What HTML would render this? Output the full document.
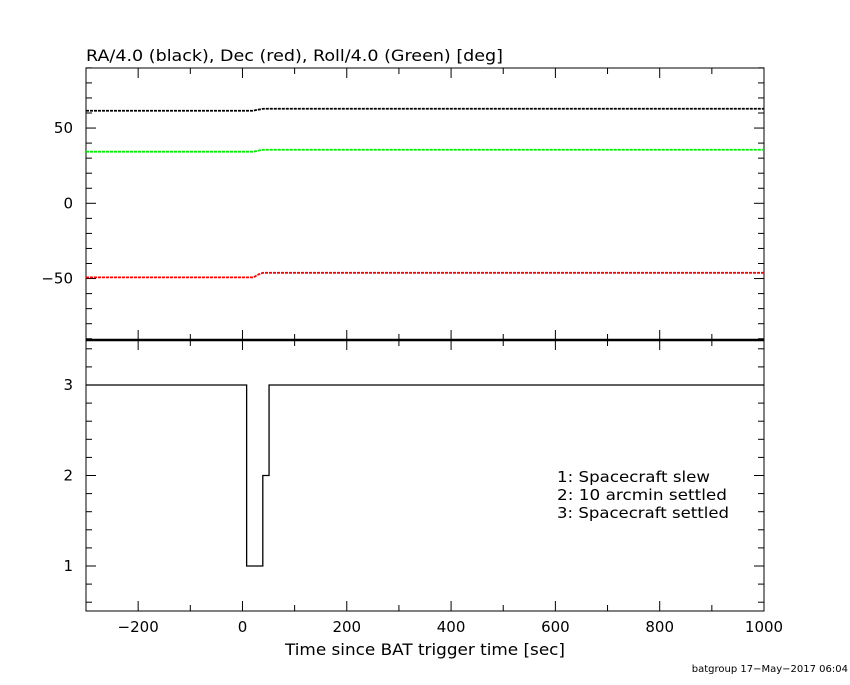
<!DOCTYPE html>
<html><head><meta charset="utf-8"><style>
body{margin:0;background:#fff;}
svg text{font-family:"DejaVu Sans","Liberation Sans",sans-serif;}
</style></head><body>
<svg id="c" width="850" height="680" xmlns="http://www.w3.org/2000/svg">
<rect width="850" height="680" fill="#fff"/>
<g id="g"></g>
</svg>
<script>
const xTicks=[-200,0,200,400,600,800,1000];
const topTicks=[-50,0,50];
const botTicks=[1,2,3];
const raT=[-300,20,30,40,1000];
const raV=[61.5,61.5,62.2,62.8,62.8];
const decT=[-300,20,25,30,35,40,1000];
const decV=[-49.2,-49.2,-48.4,-47.4,-46.6,-46.2,-46.2];
const rollT=[-300,20,30,40,1000];
const rollV=[34.3,34.3,35.0,35.6,35.6];
const stT=[-300,8,39,51,1000];
const stV=[3,1,2,3,3];
const legend=["1: Spacecraft slew","2: 10 arcmin settled","3: Spacecraft settled"];
const legendW=[153,170,172];

const L=86,R=764;
const X=t=>L+(t+300)/1300*(R-L);
const YT=v=>203.3-v*1.505;
const YB=v=>385-(v-3)*90.5;
const g=document.getElementById('g');
const NS='http://www.w3.org/2000/svg';
function el(tag,at,txt){const e=document.createElementNS(NS,tag);for(const k in at)e.setAttribute(k,at[k]);if(txt!==undefined)e.textContent=txt;g.appendChild(e);return e;}
function line(x1,y1,x2,y2,w){return el('line',{x1,y1,x2,y2,stroke:'#000','stroke-width':w||1});}

let f=el('rect',{x:L,y:68,width:R-L,height:272,fill:'none',stroke:'#000','stroke-width':1});


f=el('rect',{x:L,y:340,width:R-L,height:271,fill:'none',stroke:'#000','stroke-width':1});


line(L,340,R,340,2.5);

for(let t=-300;t<=1000;t+=100){const x=X(t);const maj=t%200===0;const h=maj?10:6;
 line(x,611,x,611-h);line(x,340,x,340+h);line(x,68,x,68+h);line(x,340,x,340-h);}
xTicks.forEach(t=>{const e=el('text',{x:X(t),y:632,'font-size':15,'text-anchor':'middle'},t<0?'\u2212'+(-t):String(t));
 
 });
for(let v=-90;v<=90;v+=10){const y=YT(v);const h=v%50===0?10:6;line(L,y,L+h,y);line(R,y,R-h,y);}
topTicks.forEach(v=>{const e=el('text',{x:73,y:YT(v)+5,'font-size':15,'text-anchor':'end'},v<0?'\u2212'+(-v):String(v));
 
 });
for(let v=0.6;v<=3.41;v+=0.2){const y=YB(v);const h=Math.abs(v-Math.round(v))<0.01?10:6;line(L,y,L+h,y);line(R,y,R-h,y);}
botTicks.forEach(v=>{const e=el('text',{x:73,y:YB(v)+5,'font-size':15,'text-anchor':'end'},String(v));
 
 });

function series(T,V,col,name){const p=T.map((t,i)=>X(t)+','+YT(V[i])).join(' ');
 const e=el('polyline',{points:p,fill:'none',stroke:col,'stroke-width':1.8,'stroke-dasharray':'3,1'});
 
 }
series(raT,raV,'#000','ra-line');
series(rollT,rollV,'#00ee00','roll-line');
series(decT,decV,'#ff0000','dec-line');

let sp=[];for(let i=0;i<stT.length-1;i++){sp.push(X(stT[i])+','+YB(stV[i]));sp.push(X(stT[i+1])+','+YB(stV[i]));}
const s=el('polyline',{points:sp.join(' '),fill:'none',stroke:'#000','stroke-width':1.3});



let t=el('text',{x:86,y:61,'font-size':16,textLength:417,lengthAdjust:'spacingAndGlyphs'},'RA/4.0 (black), Dec (red), Roll/4.0 (Green) [deg]');


t=el('text',{x:285,y:655,'font-size':16,textLength:280,lengthAdjust:'spacingAndGlyphs'},'Time since BAT trigger time [sec]');


legend.forEach((s2,i)=>{const e=el('text',{x:557,y:482+i*18,'font-size':15,textLength:legendW[i],lengthAdjust:'spacingAndGlyphs'},s2);
 
 });
t=el('text',{x:848,y:672,'font-size':10,'text-anchor':'end'},'batgroup 17\u2212May\u22122017 06:04');


</script>
</body></html>
